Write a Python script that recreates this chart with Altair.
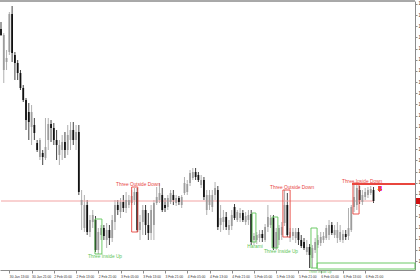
import altair as alt
import pandas as pd

# ---- candle data (EURUSD H1) ----
open_ = [1.10241,1.10200,1.10208,1.10218,1.10256,1.10215,1.10207,1.10197,1.10182,1.10170,
1.10158,1.10143,1.10145,1.10127,1.10113,1.10117,1.10112,1.10130,1.10146,1.10142,
1.10130,1.10115,1.10120,1.10128,1.10120,1.10130,1.10140,1.10130,1.10138,1.10065,
1.10042,1.10065,1.10038,1.10048,1.10050,1.10020,1.10035,1.10042,1.10030,1.10040,
1.10032,1.10048,1.10065,1.10058,1.10068,1.10062,1.10065,1.10067,1.10070,1.10078,
1.10040,1.10048,1.10060,1.10045,1.10037,1.10045,1.10067,1.10070,1.10075,1.10065,
1.10063,1.10068,1.10075,1.10067,1.10072,1.10065,1.10077,1.10078,1.10087,1.10092,
1.10098,1.10095,1.10085,1.10090,1.10060,1.10065,1.10063,1.10075,1.10080,1.10045,
1.10048,1.10053,1.10040,1.10044,1.10063,1.10050,1.10052,1.10057,1.10048,1.10050,
1.10056,1.10030,1.10030,1.10032,1.10036,1.10030,1.10043,1.10045,1.10052,1.10022,
1.10030,1.10035,1.10047,1.10065,1.10032,1.10034,1.10032,1.10038,1.10030,1.10028,
1.10018,1.10023,1.10012,1.10020,1.10025,1.10027,1.10030,1.10032,1.10035,1.10045,
1.10035,1.10032,1.10030,1.10030,1.10036,1.10034,1.10040,1.10063,1.10065,1.10080,
1.10068,1.10073,1.10075,1.10077,1.10080]
high = [1.10248,1.10237,1.10220,1.10258,1.10264,1.10218,1.10210,1.10200,1.10185,1.10172,
1.10167,1.10165,1.10152,1.10130,1.10132,1.10120,1.10152,1.10152,1.10150,1.10147,
1.10140,1.10130,1.10135,1.10138,1.10145,1.10148,1.10148,1.10145,1.10145,1.10080,
1.10075,1.10070,1.10055,1.10060,1.10054,1.10042,1.10045,1.10045,1.10047,1.10045,
1.10055,1.10070,1.10070,1.10072,1.10075,1.10078,1.10075,1.10080,1.10082,1.10082,
1.10055,1.10065,1.10065,1.10057,1.10065,1.10070,1.10083,1.10087,1.10082,1.10072,
1.10075,1.10080,1.10080,1.10075,1.10074,1.10075,1.10093,1.10090,1.10100,1.10102,
1.10102,1.10098,1.10095,1.10093,1.10080,1.10080,1.10080,1.10088,1.10084,1.10065,
1.10060,1.10058,1.10050,1.10060,1.10066,1.10060,1.10062,1.10060,1.10058,1.10060,
1.10060,1.10037,1.10038,1.10040,1.10040,1.10046,1.10065,1.10055,1.10055,1.10042,
1.10045,1.10048,1.10080,1.10077,1.10042,1.10042,1.10042,1.10042,1.10035,1.10032,
1.10030,1.10026,1.10025,1.10032,1.10035,1.10038,1.10038,1.10045,1.10050,1.10048,
1.10045,1.10048,1.10045,1.10040,1.10040,1.10062,1.10065,1.10087,1.10085,1.10084,
1.10080,1.10082,1.10083,1.10084,1.10083]
low = [1.10234,1.10187,1.10200,1.10215,1.10208,1.10190,1.10190,1.10180,1.10168,1.10140,
1.10130,1.10125,1.10130,1.10118,1.10110,1.10105,1.10110,1.10120,1.10128,1.10125,
1.10110,1.10105,1.10110,1.10112,1.10115,1.10120,1.10125,1.10120,1.10075,1.10040,
1.10038,1.10035,1.10033,1.10042,1.10018,1.10016,1.10030,1.10030,1.10022,1.10025,
1.10028,1.10040,1.10055,1.10052,1.10058,1.10057,1.10062,1.10065,1.10065,1.10038,
1.10030,1.10035,1.10035,1.10030,1.10030,1.10030,1.10065,1.10067,1.10058,1.10058,
1.10060,1.10066,1.10065,1.10064,1.10065,1.10062,1.10075,1.10075,1.10084,1.10090,
1.10090,1.10088,1.10082,1.10070,1.10055,1.10060,1.10058,1.10070,1.10040,1.10038,
1.10040,1.10040,1.10035,1.10040,1.10050,1.10048,1.10048,1.10048,1.10045,1.10045,
1.10025,1.10025,1.10026,1.10028,1.10028,1.10028,1.10038,1.10042,1.10020,1.10020,
1.10025,1.10030,1.10044,1.10033,1.10028,1.10030,1.10027,1.10025,1.10022,1.10020,
1.10015,1.10002,1.10002,1.10017,1.10022,1.10024,1.10027,1.10030,1.10030,1.10035,
1.10032,1.10027,1.10028,1.10027,1.10030,1.10030,1.10038,1.10058,1.10060,1.10066,
1.10065,1.10070,1.10072,1.10075,1.10067]
close = [1.10235,1.10235,1.10212,1.10256,1.10217,1.10207,1.10197,1.10182,1.10170,1.10150,
1.10148,1.10158,1.10137,1.10120,1.10130,1.10113,1.10123,1.10146,1.10142,1.10130,
1.10125,1.10125,1.10128,1.10120,1.10135,1.10140,1.10130,1.10138,1.10078,1.10070,
1.10065,1.10038,1.10050,1.10055,1.10020,1.10038,1.10042,1.10034,1.10040,1.10032,
1.10050,1.10065,1.10060,1.10068,1.10062,1.10070,1.10070,1.10074,1.10078,1.10040,
1.10048,1.10060,1.10045,1.10037,1.10060,1.10067,1.10073,1.10077,1.10060,1.10062,
1.10072,1.10077,1.10070,1.10072,1.10068,1.10073,1.10087,1.10086,1.10097,1.10098,
1.10093,1.10090,1.10090,1.10073,1.10075,1.10075,1.10075,1.10082,1.10043,1.10052,
1.10053,1.10043,1.10045,1.10055,1.10052,1.10058,1.10057,1.10050,1.10054,1.10055,
1.10028,1.10034,1.10035,1.10036,1.10032,1.10043,1.10053,1.10052,1.10022,1.10038,
1.10042,1.10043,1.10065,1.10035,1.10038,1.10038,1.10038,1.10030,1.10024,1.10022,
1.10023,1.10015,1.10022,1.10028,1.10030,1.10033,1.10034,1.10042,1.10045,1.10037,
1.10040,1.10040,1.10038,1.10036,1.10033,1.10042,1.10063,1.10073,1.10082,1.10070,
1.10075,1.10078,1.10080,1.10081,1.10069]

# ---- x axis labels (bar index -> text) ----
x_tick_idx = [3, 11, 19, 27, 35, 43, 51, 59, 67, 75, 83, 91, 99, 107, 115, 123, 131]
x_tick_txt = ["30 Jan 13:00", "30 Jan 21:00", "2 Feb 05:00", "2 Feb 13:00", "2 Feb 21:00",
              "3 Feb 05:00", "3 Feb 13:00", "3 Feb 21:00", "4 Feb 05:00", "4 Feb 13:00",
              "4 Feb 21:00", "5 Feb 05:00", "5 Feb 13:00", "5 Feb 21:00", "6 Feb 05:00",
              "6 Feb 13:00", "6 Feb 21:00"]

# ---- pattern boxes (bar index range, price range) ----
box_x0 = [47.0, 33.8, 101.4, 90.3, 97.5, 111.5, 113.7, 126.6]
box_x1 = [49.2, 36.3, 104.0, 91.7, 99.6, 113.7, 148.9, 128.8]
box_p0 = [1.10083, 1.10051, 1.10080, 1.10057, 1.10053, 1.10042, 1.10007, 1.10087]
box_p1 = [1.10038, 1.10016, 1.10033, 1.10028, 1.10022, 1.10002, 1.10001, 1.10056]
box_col = ["red", "green", "red", "green", "green", "green", "green", "red"]

# ---- pattern labels ----
lab_txt = ["Three Outside Down", "Three Inside Up", "Three Outside Down", "Harami",
           "Three Inside Up", "Three Inside Down", "Three Inside Up"]
lab_i = [49.3, 37.4, 104.7, 91.4, 100.7, 129.9, 114.8]
lab_p = [1.10085, 1.10013, 1.10082, 1.10023, 1.10018, 1.10088, 1.09998]
lab_col = ["red", "green", "red", "green", "green", "red", "green"]
lab_size = [4.8, 4.8, 4.8, 4.8, 4.8, 4.8, 3.2]

RED = "#e8463f"
GREEN = "#5cc456"
cmap = {"red": RED, "green": GREEN}

df = pd.DataFrame({"i": list(range(len(close))), "open": open_, "high": high,
                   "low": low, "close": close})
df["dir"] = ["up" if c >= o else "down" for o, c in zip(open_, close)]

boxes = pd.DataFrame({"x0": box_x0, "x1": box_x1, "p0": box_p0, "p1": box_p1,
                      "col": [cmap[c] for c in box_col]})
labels = pd.DataFrame({"i": lab_i, "p": lab_p, "t": lab_txt,
                       "col": [cmap[c] for c in lab_col], "s": lab_size})

XDOM = [-0.36, 148.92]
YDOM = [1.10000, 1.10269]
xs = alt.Scale(domain=XDOM, nice=False, zero=False)
ys = alt.Scale(domain=YDOM, nice=False, zero=False)

label_arr = "[" + ",".join("'%s'" % t for t in x_tick_txt) + "]"
x_axis = alt.Axis(values=x_tick_idx, labelExpr=label_arr + "[(datum.value - 3) / 8]",
                  labelAlign="left", labelBaseline="top", labelPadding=1.5, tickSize=3,
                  title=None, grid=False, labelFontSize=3.3, labelColor="#333",
                  domainColor="#8c8c8c", tickColor="#8c8c8c", labelOverlap=False)
y_ticks = [round(1.10009 + 0.0001118 * k, 6) for k in range(24)]
y_axis = alt.Axis(orient="right", values=y_ticks, format=".4f", tickSize=2,
                  labelPadding=1, title=None, grid=False, labelFontSize=4.5,
                  labelColor="#333", domainColor="#8c8c8c", tickColor="#8c8c8c",
                  labelOverlap=False)

col = alt.Color("dir:N", scale=alt.Scale(domain=["up", "down"], range=["#9c9c9c", "#111111"]),
                legend=None)

last = close[-1]

wicks = alt.Chart(df).mark_rule(strokeWidth=0.8).encode(
    x=alt.X("i:Q", scale=xs, axis=x_axis),
    y=alt.Y("low:Q", scale=ys, axis=y_axis),
    y2="high:Q",
    color=col)

price_line = alt.Chart(df).mark_rule(color="#f2a3a3", strokeWidth=1).encode(
    x=alt.X("i:Q", scale=xs, axis=x_axis, aggregate="min"),
    x2=alt.X2("i", aggregate="max"),
    y=alt.datum(last, scale=ys, axis=y_axis))

bodies = alt.Chart(df).mark_rule(strokeWidth=1.8).encode(
    x=alt.X("i:Q", scale=xs, axis=x_axis),
    y=alt.Y("open:Q", scale=ys, axis=y_axis),
    y2="close:Q",
    color=col)

rects = alt.Chart(boxes).mark_rect(fillOpacity=0, strokeWidth=0.9).encode(
    x=alt.X("x0:Q", scale=xs, axis=x_axis), x2="x1:Q",
    y=alt.Y("p0:Q", scale=ys, axis=y_axis), y2="p1:Q",
    stroke=alt.Stroke("col:N", scale=None))

hline = alt.Chart(df).mark_rule(color=RED, strokeWidth=1).encode(
    x=alt.datum(126.6, scale=xs, axis=x_axis), x2=alt.datum(148.92),
    y=alt.datum(1.10086, scale=ys, axis=y_axis))

texts = alt.Chart(labels).mark_text(font="Liberation Sans", align="center",
                                    baseline="middle").encode(
    x=alt.X("i:Q", scale=xs, axis=x_axis),
    y=alt.Y("p:Q", scale=ys, axis=y_axis),
    text="t:N",
    color=alt.Color("col:N", scale=None),
    size=alt.Size("s:Q", scale=None))

arrow = alt.Chart(df).mark_text(text="⇩", color=RED, fontSize=7,
                                font="DejaVu Sans").encode(
    x=alt.datum(136.3, scale=xs, axis=x_axis), y=alt.datum(1.10081, scale=ys, axis=y_axis))

top_border = alt.Chart(df).mark_rule(color="#a8a8a8", strokeWidth=1).encode(
    x=alt.value(0), x2=alt.value(415), y=alt.value(0))

price_tag = alt.Chart(df).mark_rule(color="#d01010", strokeWidth=6).encode(
    x=alt.value(416), x2=alt.value(422), y=alt.datum(last, scale=ys, axis=y_axis))

chart = alt.layer(wicks, price_line, bodies, rects, hline, texts, arrow, top_border,
                  price_tag).properties(
    width=415, height=269, autosize=alt.AutoSizeParams(type="none"),
    padding={"left": 0, "top": 1, "right": 5, "bottom": 10},
    background="white"
).configure_view(stroke=None).configure_axis(labelFont="Liberation Sans")

chart.save("out.html", embed_options={"renderer": "svg", "actions": False})
